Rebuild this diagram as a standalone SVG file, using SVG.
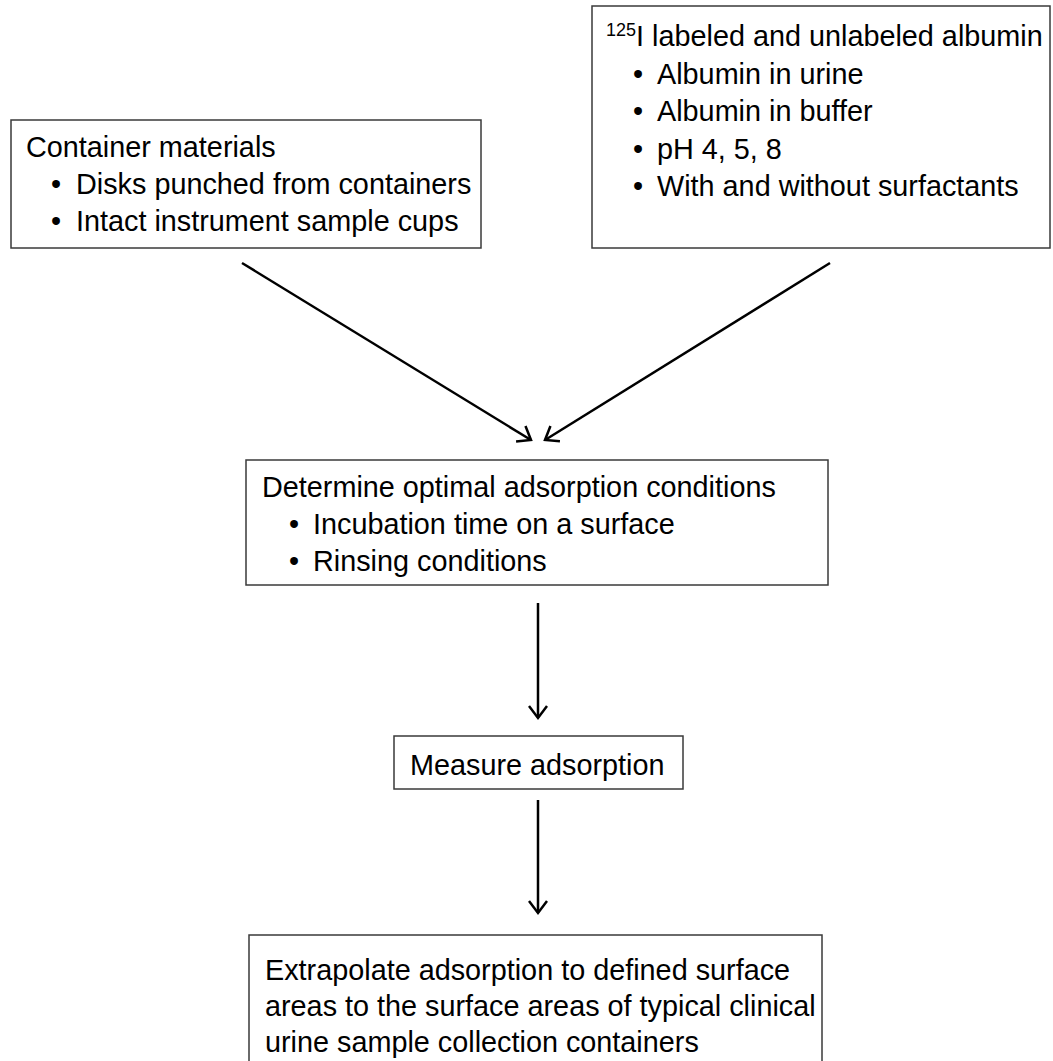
<svg xmlns="http://www.w3.org/2000/svg" width="1053" height="1061" viewBox="0 0 1053 1061">
<style>
.box{fill:#fff;stroke:#3a3a3a;stroke-width:1.5}
.t{font-family:"Liberation Sans",Arial,sans-serif;font-size:28.8px;fill:#000}
.sup{font-size:18px}
.conn{stroke:#000;stroke-width:2.5;fill:none}
</style>
<defs>
<marker id="arr" viewBox="0 0 24 24" refX="20" refY="12" markerWidth="24" markerHeight="24" orient="auto" markerUnits="userSpaceOnUse">
<path d="M8,3 L20,12 L8,21" fill="none" stroke="#000" stroke-width="2.5"/>
</marker>
</defs>
<rect width="1053" height="1061" fill="#fff"/>
<g id="connectors">
<line class="conn" x1="242" y1="263" x2="531" y2="440" marker-end="url(#arr)"/>
<line class="conn" x1="830" y1="263" x2="545" y2="440" marker-end="url(#arr)"/>
<line class="conn" x1="538" y1="603" x2="538" y2="718" marker-end="url(#arr)"/>
<line class="conn" x1="538" y1="800" x2="538" y2="913" marker-end="url(#arr)"/>
</g>
<g id="container-materials">
<rect class="box" x="11" y="120" width="470" height="128"/>
<text class="t" x="26" y="157">Container materials</text>
<text class="t" x="51" y="194">•</text><text class="t" x="76" y="194">Disks punched from containers</text>
<text class="t" x="51" y="231">•</text><text class="t" x="76" y="231">Intact instrument sample cups</text>
</g>
<g id="albumin">
<rect class="box" x="592" y="6" width="458" height="242"/>
<text class="t" x="606" y="46"><tspan class="sup" dy="-10">125</tspan><tspan dy="10">I labeled and unlabeled albumin</tspan></text>
<text class="t" x="633" y="84">•</text><text class="t" x="657" y="84">Albumin in urine</text>
<text class="t" x="633" y="121">•</text><text class="t" x="657" y="121">Albumin in buffer</text>
<text class="t" x="633" y="159">•</text><text class="t" x="657" y="159">pH 4, 5, 8</text>
<text class="t" x="633" y="196">•</text><text class="t" x="657" y="196">With and without surfactants</text>
</g>
<g id="determine">
<rect class="box" x="246" y="460" width="582" height="125"/>
<text class="t" x="262" y="497">Determine optimal adsorption conditions</text>
<text class="t" x="289" y="534">•</text><text class="t" x="313" y="534">Incubation time on a surface</text>
<text class="t" x="289" y="571">•</text><text class="t" x="313" y="571">Rinsing conditions</text>
</g>
<g id="measure">
<rect class="box" x="394" y="736" width="289" height="53"/>
<text class="t" x="410" y="775">Measure adsorption</text>
</g>
<g id="extrapolate">
<rect class="box" x="249" y="935" width="573" height="130"/>
<text class="t" x="265" y="980">Extrapolate adsorption to defined surface</text>
<text class="t" x="265" y="1016">areas to the surface areas of typical clinical</text>
<text class="t" x="265" y="1052">urine sample collection containers</text>
</g>
</svg>
